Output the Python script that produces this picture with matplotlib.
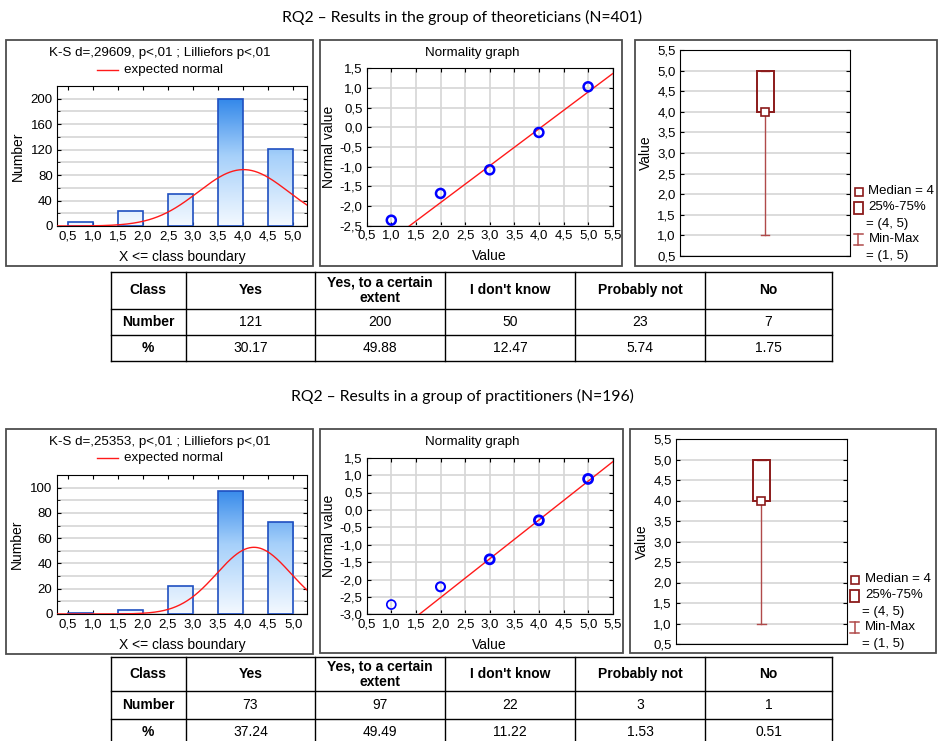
import numpy as np
import matplotlib
matplotlib.use("Agg")
import matplotlib.pyplot as plt
from matplotlib.patches import Rectangle
from matplotlib.lines import Line2D
from matplotlib.colors import LinearSegmentedColormap
from matplotlib.ticker import MultipleLocator, FuncFormatter, FixedLocator

# ---------------- data ----------------
group_titles = ["RQ2 \u2013 Results in the group of theoreticians (N=401)",
                "RQ2 \u2013 Results in a group of practitioners (N=196)"]
ks_texts = ["K-S d=,29609, p<,01 ; Lilliefors p<,01",
            "K-S d=,25353, p<,01 ; Lilliefors p<,01"]
class_labels = ["Yes", "Yes, to a certain\nextent", "I don't know", "Probably not", "No"]
scale_values = [1, 2, 3, 4, 5]            # No ... Yes
hist_ticks = [0.5, 1.0, 1.5, 2.0, 2.5, 3.0, 3.5, 4.0, 4.5, 5.0]

theo_counts = [121, 200, 50, 23, 7]        # in class order Yes..No
theo_pct = [30.17, 49.88, 12.47, 5.74, 1.75]
prac_counts = [73, 97, 22, 3, 1]
prac_pct = [37.24, 49.49, 11.22, 1.53, 0.51]

theo_normal_vals = [-2.36, -1.68, -1.08, -0.13, 1.03]
prac_normal_vals = [-2.72, -2.21, -1.42, -0.30, 0.89]
theo_fit = (0.937, -3.788)   # slope, intercept
prac_fit = (1.115, -4.75)
theo_marker_lw = [1.8, 1.8, 1.8, 1.8, 1.8]
prac_marker_lw = [1.2, 1.5, 2.0, 2.0, 2.0]

theo_box = dict(median=4, q1=4, q3=5, vmin=1, vmax=5)
prac_box = dict(median=4, q1=4, q3=5, vmin=1, vmax=5)

# ---------------- layout ----------------
W, H = 941, 741
plt.rcParams['font.family'] = ['Liberation Sans', 'DejaVu Sans']
plt.rcParams['font.size'] = 9.5
plt.rcParams['xtick.labelsize'] = 9.5
plt.rcParams['ytick.labelsize'] = 9.5
plt.rcParams['axes.labelsize'] = 10

fig = plt.figure(figsize=(W / 100, H / 100), dpi=100)


def rect(l, t, r, b):
    return [l / W, 1 - b / H, (r - l) / W, (b - t) / H]


def fx(x):
    return x / W


def fy(y):
    return 1 - y / H


comma = FuncFormatter(lambda v, p: f"{v:.1f}".replace('.', ','))

groups = [
    dict(title=group_titles[0], ks=ks_texts[0], counts=theo_counts, pct=theo_pct,
         nvals=theo_normal_vals, fit=theo_fit, mlw=theo_marker_lw, box=theo_box,
         title_y=17,
         frames=[(6, 40, 313, 266), (320, 40, 622, 266), (635, 40, 937, 266)],
         hist=(57, 86, 307, 226), norm=(366.7, 68.3, 612.7, 225.7), boxax=(680, 50, 850, 256),
         ks_y=53, leg_y=70, rows=[272, 308.7, 335.3, 361.3],
         hist_ymax=220, hist_major=40, hist_minor=20, norm_ylim=(-2.5, 1.5)),
    dict(title=group_titles[1], ks=ks_texts[1], counts=prac_counts, pct=prac_pct,
         nvals=prac_normal_vals, fit=prac_fit, mlw=prac_marker_lw, box=prac_box,
         title_y=396,
         frames=[(6, 429, 313, 654), (320, 429, 623, 653), (630, 429, 936, 653)],
         hist=(56.7, 475, 307.3, 614), norm=(366.7, 457.7, 612.7, 614.3), boxax=(676, 439, 846.7, 644),
         ks_y=441.7, leg_y=458.3, rows=[657.3, 691.3, 718.7, 746],
         hist_ymax=110, hist_major=20, hist_minor=10, norm_ylim=(-3.0, 1.5)),
]

col_x = [110.7, 185.7, 315, 445, 575, 705, 832]

bar_cmap = LinearSegmentedColormap.from_list("bluegrad", ["#f4f9ff", "#a6d0fa", "#1877e6"])
grid_c = "#d6d6d6"
box_c = "#8b1a1a"
whisk_c = "#b04a4a"

for g in groups:
    # group title
    fig.text(fx(462), fy(g['title_y']), g['title'], ha='center', va='center',
             fontsize=11.3, family=['Lato', 'DejaVu Sans'])
    # panel frames
    for (l, t, r, b) in g['frames']:
        fig.add_artist(Rectangle((fx(l), fy(b)), (r - l) / W, (b - t) / H,
                                 transform=fig.transFigure, fill=False,
                                 ec="#4d4d4d", lw=1.3))

    # ---------- histogram ----------
    ax = fig.add_axes(rect(*g['hist']))
    counts = np.array(g['counts'][::-1])
    vals = np.array(scale_values)
    ymax = g['hist_ymax']
    bars = ax.bar(vals - 0.25, counts, width=0.5, facecolor='none',
                  edgecolor='#1f4fc0', linewidth=1.2, zorder=3)
    grad = np.linspace(0, 1, 256).reshape(-1, 1)
    for bar in bars:
        x0 = bar.get_x()
        im = ax.imshow(grad, extent=[x0, x0 + bar.get_width(), 0, ymax], origin='lower',
                       cmap=bar_cmap, vmin=0, vmax=1, aspect='auto', zorder=2)
        im.set_clip_path(bar)
    data = np.repeat(vals, counts)
    mu, sd = data.mean(), data.std(ddof=1)
    xs = np.linspace(0.28, 5.28, 400)
    ys = len(data) * 0.5 * np.exp(-0.5 * ((xs - mu) / sd) ** 2) / (sd * np.sqrt(2 * np.pi))
    ax.plot(xs, ys, color='#ff1a1a', lw=1.0, zorder=4)
    ax.set_xlim(0.28, 5.28)
    ax.set_ylim(0, ymax)
    ax.xaxis.set_major_locator(FixedLocator(hist_ticks))
    ax.xaxis.set_major_formatter(comma)
    ax.yaxis.set_major_locator(MultipleLocator(g['hist_major']))
    ax.yaxis.set_minor_locator(MultipleLocator(g['hist_minor']))
    ax.grid(True, axis='y', which='both', color=grid_c, lw=1.2, zorder=0)
    ax.set_axisbelow(True)
    ax.tick_params(which='both', direction='in', length=3, top=True, right=True, pad=3)
    ax.tick_params(which='minor', length=2)
    ax.set_ylabel("Number", va='center')
    ax.yaxis.set_label_coords(-0.158, 0.5)
    ax.set_xlabel("X <= class boundary", va='center')
    ax.xaxis.set_label_coords(0.5, -0.22)
    # header & legend
    fig.text(fx(160), fy(g['ks_y']), g['ks'], ha='center', va='center', fontsize=9.6)
    fig.add_artist(Line2D([fx(97), fx(118)], [fy(g['leg_y'])] * 2, transform=fig.transFigure,
                          color='#ff1a1a', lw=1.0))
    fig.text(fx(124), fy(g['leg_y']), "expected normal", ha='left', va='center', fontsize=9.6)

    # ---------- normality graph ----------
    ax2 = fig.add_axes(rect(*g['norm']))
    ax2.scatter(vals, g['nvals'], s=42, facecolors='none', edgecolors='#0000ff',
                linewidths=g['mlw'], zorder=4, clip_on=False)
    slope, icpt = g['fit']
    lx = np.array([0.5, 5.5])
    ax2.plot(lx, slope * lx + icpt, color='#ff1a1a', lw=1.0, zorder=3)
    ax2.set_xlim(0.5, 5.5)
    ax2.set_ylim(*g['norm_ylim'])
    ax2.xaxis.set_major_locator(MultipleLocator(0.5))
    ax2.yaxis.set_major_locator(MultipleLocator(0.5))
    ax2.xaxis.set_major_formatter(comma)
    ax2.yaxis.set_major_formatter(comma)
    ax2.grid(True, color=grid_c, lw=1.2, zorder=0)
    ax2.set_axisbelow(True)
    ax2.tick_params(direction='in', length=3, top=True, right=True, pad=3)
    ax2.set_ylabel("Normal value", va='center')
    ax2.yaxis.set_label_coords(-0.152, 0.5)
    ax2.set_xlabel("Value", va='center')
    ax2.xaxis.set_label_coords(0.5, -0.193)
    fig.text(fx(472), fy(g['ks_y']), "Normality graph", ha='center', va='center', fontsize=9.6)

    # ---------- box plot ----------
    bx = g['box']
    ax3 = fig.add_axes(rect(*g['boxax']))
    ax3.add_patch(Rectangle((-0.05, bx['q1']), 0.1, bx['q3'] - bx['q1'], fill=False,
                            ec=box_c, lw=1.4, zorder=4))
    ax3.plot([0, 0], [bx['vmin'], bx['q1']], color=whisk_c, lw=1.0, zorder=3)
    ax3.plot([0, 0], [bx['q3'], bx['vmax']], color=whisk_c, lw=1.0, zorder=3)
    ax3.plot([-0.026, 0.026], [bx['vmin']] * 2, color=whisk_c, lw=1.0, zorder=3)
    ax3.plot([-0.026, 0.026], [bx['vmax']] * 2, color=whisk_c, lw=1.0, zorder=3)
    ax3.plot([0], [bx['median']], marker='s', ms=5.5, mfc='white', mec=box_c, mew=1.2, zorder=5)
    ax3.set_xlim(-0.5, 0.5)
    ax3.set_ylim(0.5, 5.5)
    ax3.set_xticks([])
    ax3.yaxis.set_major_locator(MultipleLocator(0.5))
    ax3.yaxis.set_major_formatter(comma)
    ax3.grid(True, axis='y', color=grid_c, lw=1.2, zorder=0)
    ax3.set_axisbelow(True)
    ax3.tick_params(direction='in', length=3, right=True, pad=3)
    ax3.set_ylabel("Value", va='center')
    ax3.yaxis.set_label_coords(-0.2, 0.5)
    # legend
    R, B = g['boxax'][2], g['boxax'][3]
    tf = fig.transFigure
    fig.add_artist(Line2D([fx(R + 8.5)], [fy(B - 64.5)], transform=tf, marker='s', ms=5.5,
                          mfc='white', mec=box_c, mew=1.2, ls='none'))
    fig.text(fx(R + 18.5), fy(B - 64.5), f"Median = {bx['median']}", va='center', fontsize=9.5)
    fig.add_artist(Rectangle((fx(R + 3.5), fy(B - 48 + 6)), 9 / W, 12 / H, transform=tf,
                             fill=False, ec=box_c, lw=1.3))
    fig.text(fx(R + 18.5), fy(B - 48.5), "25%-75%", va='center', fontsize=9.5)
    fig.text(fx(R + 15.5), fy(B - 32), f"= ({bx['q1']}, {bx['q3']})", va='center', fontsize=9.5)
    fig.add_artist(Line2D([fx(R + 8)] * 2, [fy(B - 22), fy(B - 11)], transform=tf,
                          color=whisk_c, lw=1.1))
    fig.add_artist(Line2D([fx(R + 3.5), fx(R + 12.5)], [fy(B - 22)] * 2, transform=tf,
                          color=whisk_c, lw=1.1))
    fig.add_artist(Line2D([fx(R + 3.5), fx(R + 12.5)], [fy(B - 11)] * 2, transform=tf,
                          color=whisk_c, lw=1.1))
    fig.text(fx(R + 18.5), fy(B - 16.5), "Min-Max", va='center', fontsize=9.5)
    fig.text(fx(R + 15.5), fy(B), f"= ({bx['vmin']}, {bx['vmax']})", va='center', fontsize=9.5)

    # ---------- table ----------
    rows = g['rows']
    for y in rows:
        fig.add_artist(Line2D([fx(col_x[0]), fx(col_x[-1])], [fy(y)] * 2, transform=tf,
                              color='black', lw=1.0))
    for x in col_x:
        fig.add_artist(Line2D([fx(x)] * 2, [fy(rows[0]), fy(rows[-1])], transform=tf,
                              color='black', lw=1.0))
    cells = [["Class"] + class_labels,
             ["Number"] + [str(c) for c in g['counts']],
             ["%"] + [f"{p:.2f}" for p in g['pct']]]
    for ri, row in enumerate(cells):
        yc = (rows[ri] + rows[ri + 1]) / 2
        if ri == 2 and rows[-1] > H:
            yc = (rows[2] + 744.5) / 2
        for ci, txt in enumerate(row):
            xc = (col_x[ci] + col_x[ci + 1]) / 2
            bold = (ri == 0) or (ci == 0)
            fig.text(fx(xc), fy(yc), txt, ha='center', va='center', fontsize=10,
                     weight='bold' if bold else 'normal', linespacing=1.15)

fig.savefig("out.png", dpi=100)
